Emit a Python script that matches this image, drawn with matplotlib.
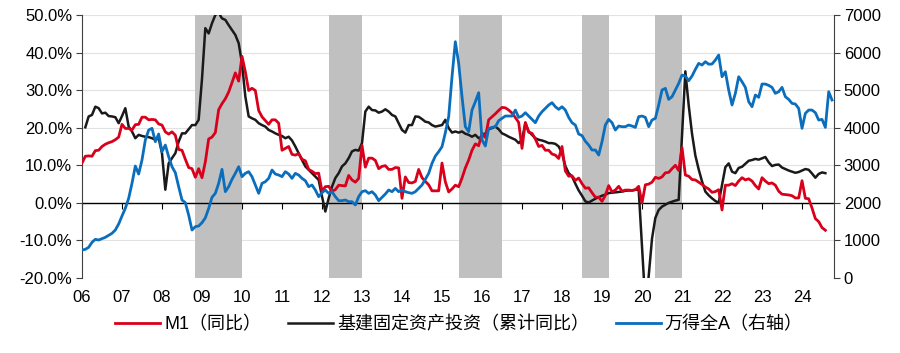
import numpy as np
import matplotlib
matplotlib.use("Agg")
import matplotlib.pyplot as plt

nan = np.nan

# M1 同比 (%), monthly from 2006-01
m1 = [
    10.6, 12.4, 12.5, 12.4, 13.9, 14.0, 15.0, 15.6, 16.0, 16.3, 16.8, 17.5,  # 2006
    20.9, 19.8, 19.8, 19.4, 20.8, 20.9, 22.8, 22.8, 22.1, 22.2, 22.1, 21.0,  # 2007
    20.7, 18.9, 18.3, 18.9, 18.0, 14.2, 14.0, 11.6, 9.4, 9.1, 6.8, 9.1,      # 2008
    6.7, 10.9, 17.0, 17.5, 18.7, 24.8, 26.4, 27.7, 29.5, 32.0, 34.6, 32.4,   # 2009
    39.0, 34.9, 29.9, 30.5, 29.9, 24.6, 22.9, 21.9, 20.9, 22.1, 22.1, 21.2,  # 2010
    14.0, 14.5, 15.0, 12.9, 12.7, 13.1, 11.6, 11.2, 8.9, 8.4, 7.8, 7.9,      # 2011
    3.1, 4.3, 4.4, 3.1, 3.5, 4.7, 4.6, 4.5, 7.3, 6.1, 5.5, 6.5,              # 2012
    15.3, 9.5, 11.9, 11.9, 11.3, 9.1, 9.7, 9.9, 8.9, 8.9, 9.4, 9.3,          # 2013
    1.2, 6.9, 5.4, 5.3, 5.7, 8.9, 6.7, 5.7, 4.8, 3.2, 3.2, 3.2,              # 2014
    10.6, 5.6, 2.9, 3.7, 4.7, 4.3, 6.6, 9.3, 11.4, 14.0, 15.7, 15.2,         # 2015
    18.6, 17.4, 22.1, 22.9, 23.7, 24.6, 25.4, 25.3, 24.7, 23.9, 22.7, 21.4,  # 2016
    14.5, 21.4, 18.8, 18.5, 17.0, 15.0, 15.3, 14.0, 14.0, 13.0, 12.7, 11.8,  # 2017
    15.0, 8.5, 7.1, 7.2, 6.0, 6.6, 5.1, 3.9, 4.0, 2.7, 1.5, 1.5,             # 2018
    0.4, 2.0, 4.6, 2.9, 3.4, 4.4, 3.1, 3.4, 3.4, 3.3, 3.5, 4.4,              # 2019
    0.0, 4.8, 5.0, 5.5, 6.8, 6.5, 6.9, 8.0, 8.1, 9.1, 10.0, 8.6,             # 2020
    14.7, 7.4, 7.1, 6.2, 6.1, 5.5, 4.9, 4.2, 3.7, 2.8, 3.0, 3.5,             # 2021
    -1.9, 4.7, 4.7, 5.1, 4.6, 5.8, 6.7, 6.1, 6.4, 5.8, 4.6, 3.7,             # 2022
    6.7, 5.8, 5.1, 5.3, 4.7, 3.1, 2.3, 2.2, 2.1, 1.9, 1.3, 1.3,              # 2023
    5.9, 1.2, 1.1, -1.4, -4.2, -5.0, -6.6, -7.3,                             # 2024
]

# 基建固定资产投资 累计同比 (%), monthly from 2006-01
infra = [
    nan, 20.1, 23.0, 23.4, 25.6, 25.2, 23.8, 24.0, 23.1, 23.0, 22.8, 21.2,   # 2006
    23.1, 25.2, 20.3, 19.0, 17.2, 18.1, 17.8, 17.6, 17.5, 17.2, 16.8, 17.2,  # 2007
    13.2, 3.5, 10.5, 11.9, 13.2, 16.3, 18.5, 18.5, 19.6, 20.7, 20.7, 22.1,   # 2008
    33.0, 46.5, 45.1, 47.8, 50.0, 50.6, 49.1, 48.7, 47.3, 46.0, 44.7, 42.5,  # 2009
    37.1, 28.3, 23.0, 22.5, 22.1, 21.2, 20.7, 20.3, 19.4, 19.0, 18.5, 18.1,  # 2010
    17.8, 17.2, 17.6, 16.6, 15.0, 13.2, 11.4, 9.7, 8.8, 7.9, 7.0, 6.1,       # 2011
    1.7, -2.3, 1.2, 4.3, 6.6, 7.9, 9.7, 10.5, 11.9, 13.7, 14.1, 13.9,        # 2012
    15.9, 24.3, 25.6, 24.7, 24.6, 24.0, 24.3, 24.9, 24.3, 23.4, 23.0, 21.2,  # 2013
    19.4, 18.7, 20.7, 20.7, 23.0, 22.9, 22.3, 21.6, 21.4, 20.7, 20.3, 20.5,  # 2014
    20.7, 22.1, 19.9, 18.7, 19.0, 18.7, 19.0, 18.4, 18.1, 17.6, 18.1, 17.2,  # 2015
    17.6, 18.5, 19.6, 19.9, 20.3, 19.6, 18.5, 18.1, 17.6, 17.2, 16.8, 15.9,  # 2016
    16.8, 21.2, 19.0, 18.1, 17.2, 16.8, 16.6, 16.3, 15.9, 15.9, 15.7, 15.0,  # 2017
    13.2, 9.8, 7.9, 7.0, 5.1, 3.3, 1.9, 0.4, 0.1, 0.6, 1.1, 1.5,             # 2018
    1.9, 2.2, 2.6, 2.7, 2.8, 2.9, 3.0, 3.2, 3.3, 3.3, 3.5, 3.5,              # 2019
    nan, -26.9, -19.5, -9.5, -4.0, -1.9, -1.0, -0.5, 0.0, 0.3, 0.6, 0.8,     # 2020
    nan, 35.0, 26.0, 18.4, 12.6, 8.9, 5.7, 3.0, 2.0, 1.2, 0.5, 0.0,          # 2021
    nan, 9.5, 10.5, 8.3, 7.9, 9.3, 9.6, 10.4, 11.2, 11.4, 11.7, 11.5,        # 2022
    nan, 12.2, 10.8, 9.8, 10.1, 10.2, 9.4, 9.0, 8.6, 8.3, 8.0, 8.2,          # 2023
    nan, 9.0, 8.8, 7.8, 6.7, 7.7, 8.1, 7.9,                                  # 2024
]

# 万得全A 指数 (右轴), monthly from 2006-01
wind_a = [
    745, 763, 816, 949, 1029, 1011, 1047, 1082, 1135, 1189, 1277, 1437,      # 2006
    1650, 1854, 2120, 2519, 2980, 2767, 3140, 3672, 3938, 3983, 3628, 3832,  # 2007
    3362, 3539, 3229, 2963, 2803, 2430, 2076, 2005, 1676, 1277, 1366, 1384,  # 2008
    1472, 1600, 1850, 2147, 2253, 2519, 2892, 2297, 2430, 2626, 2785, 2963,  # 2009
    2697, 2785, 2830, 2697, 2475, 2253, 2519, 2563, 2652, 2874, 2767, 2741,  # 2010
    2697, 2830, 2767, 2652, 2785, 2741, 2652, 2590, 2430, 2475, 2342, 2164,  # 2011
    2271, 2342, 2253, 2297, 2164, 2058, 2058, 2076, 2031, 2031, 1943, 2164,  # 2012
    2297, 2324, 2253, 2297, 2209, 2058, 2147, 2235, 2342, 2297, 2386, 2297,  # 2013
    2342, 2297, 2271, 2253, 2297, 2386, 2475, 2626, 2785, 3051, 3246, 3362,  # 2014
    3495, 3867, 4293, 5357, 6289, 5712, 4825, 4027, 3894, 4470, 4692, 4932,  # 2015
    3672, 3513, 3983, 4009, 4027, 4187, 4249, 4311, 4311, 4311, 4470, 4275,  # 2016
    4311, 4400, 4311, 4222, 4133, 4311, 4426, 4515, 4604, 4666, 4559, 4488,  # 2017
    4559, 4470, 4275, 4133, 4071, 3832, 3790, 3640, 3539, 3406, 3406, 3273,  # 2018
    3628, 4071, 4222, 4133, 3938, 4045, 4027, 4027, 4071, 4045, 4009, 4293,  # 2019
    4311, 4275, 4027, 4204, 4249, 4604, 5003, 5047, 4754, 4825, 5003, 5180,  # 2020
    5402, 5375, 5251, 5375, 5553, 5712, 5668, 5757, 5690, 5695, 5801, 5934,  # 2021
    5357, 5491, 5003, 4604, 4914, 5357, 5224, 5074, 4692, 4559, 4870, 4808,  # 2022
    5162, 5162, 5127, 5074, 4914, 4958, 5074, 4825, 4754, 4648, 4630, 4515,  # 2023
    3983, 4382, 4470, 4470, 4400, 4204, 4222, 4009, 4958, 4737,              # 2024
]

shade_periods = [("2008-11", "2010-01"), ("2012-03", "2013-01"),
                 ("2015-06", "2016-07"), ("2018-07", "2019-03"),
                 ("2020-05", "2021-01")]

years = list(range(2006, 2025))
year_labels = [f"{y % 100:02d}" for y in years]

labels = ["M1（同比）", "基建固定资产投资（累计同比）", "万得全A（右轴）"]


def to_t(s):
    y, m = s.split("-")
    return int(y) + (int(m) - 1) / 12


def month_axis(values):
    return 2006 + np.arange(len(values)) / 12


plt.rcParams["font.family"] = ["Liberation Sans Narrow", "Liberation Sans", "Noto Sans CJK SC"]

fig = plt.figure(figsize=(9, 3.53), dpi=100)
ax = fig.add_axes([0.0911, 0.2125, 0.8356, 0.745])
ax2 = ax.twinx()

for s, e in shade_periods:
    ax.axvspan(to_t(s), to_t(e), color="#c0c0c0", lw=0, zorder=1)

ax.set_axisbelow(True)
ax.grid(axis="y", color="#e2e2e2", lw=0.8)
ax.axhline(0, color="black", lw=1, zorder=1.5)

infra_arr = np.array(infra, dtype=float)
ok = ~np.isnan(infra_arr)
l1, = ax.plot(month_axis(m1), m1, color="#d9001b", lw=2, label=labels[0], zorder=3)
l2, = ax.plot(month_axis(infra)[ok], infra_arr[ok], color="#1a1a1a", lw=1.8, label=labels[1], zorder=2.5)
l3, = ax2.plot(month_axis(wind_a), wind_a, color="#0a6ebd", lw=2, label=labels[2])

ax.set_xlim(2006, 2024.8)
ax.set_ylim(-20, 50)
ax.set_yticks(np.arange(-20, 51, 10))
ax.yaxis.set_major_formatter(lambda v, p: f"{v:.1f}%")
ax2.set_ylim(0, 7000)
ax2.set_yticks(np.arange(0, 7001, 1000))

# x axis drawn along the zero line, labels at the bottom
ax.spines["bottom"].set_position(("data", 0))
ax.spines["bottom"].set_visible(False)
ax.set_xticks(years)
ax.tick_params(axis="x", labelbottom=False, length=4, width=0.8, color="black", direction="out")
sec = ax.secondary_xaxis("bottom")
sec.set_xticks(years, labels=year_labels)
sec.tick_params(length=0, pad=9, labelsize=12)
sec.spines["bottom"].set_visible(False)

for a in (ax, ax2):
    a.spines["top"].set_visible(False)
    a.spines["bottom"].set_visible(False)
ax.spines["right"].set_visible(False)
ax2.spines["left"].set_visible(False)
ax.spines["left"].set_color("#404040")
ax2.spines["right"].set_color("#404040")
ax.tick_params(axis="y", labelsize=12, length=4, color="#404040", pad=3)
ax2.tick_params(axis="y", labelsize=12, length=4, color="#404040", pad=3)

fig.legend(handles=[l1, l2, l3], loc="center", bbox_to_anchor=(0.51, 1 - 325 / 353),
           ncol=3, frameon=False, fontsize=13, handlelength=2.5,
           handletextpad=0.2, columnspacing=1.5)

plt.savefig("out.png", dpi=100)
